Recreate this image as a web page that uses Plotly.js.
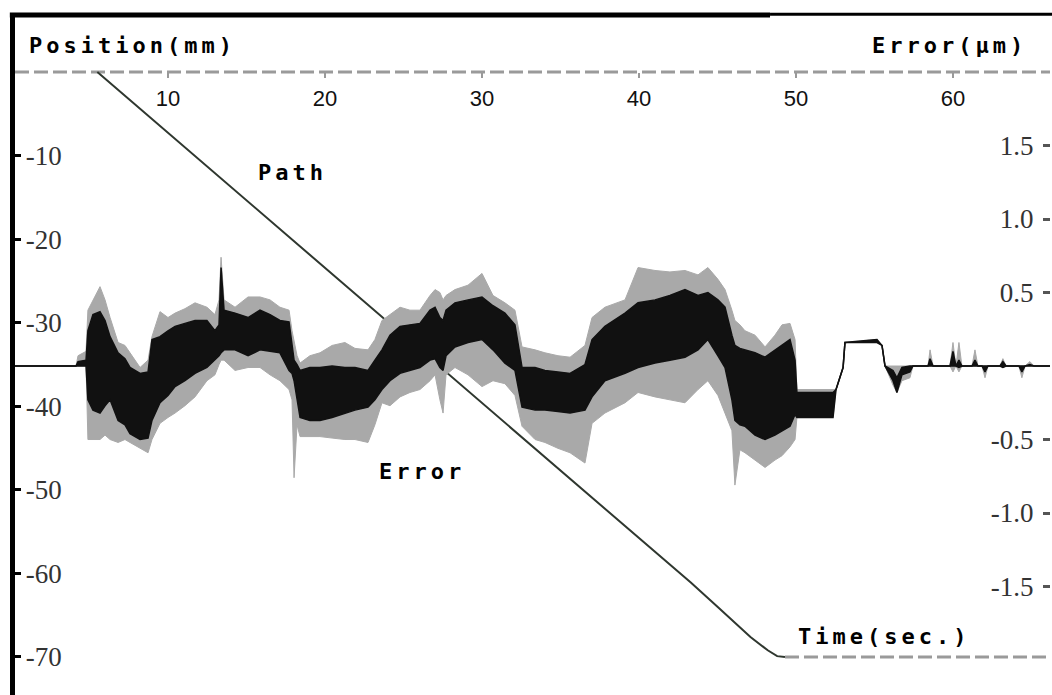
<!DOCTYPE html>
<html>
<head>
<meta charset="utf-8">
<script src="https://cdn.plot.ly/plotly-3.0.1.min.js"></script>
<style>
  html,body{margin:0;padding:0;background:#fff;}
  .annotation-text{letter-spacing:4px;}
</style>
</head>
<body>
<div id="chart" style="width:1052px;height:695px;"></div>
<script>
// ---------- data ----------
// time axis ticks (sec.)
const timeTicks = [10, 20, 30, 40, 50, 60];
// position axis ticks (mm)
const posTicks = [-10, -20, -30, -40, -50, -60, -70];
const posTickText = ['-10', '-20', '-30', '-40', '-50', '-60', '-70'];
// error axis ticks (um)
const errTicks = [1.5, 1.0, 0.5, -0.5, -1.0, -1.5];
const errTickText = ['1.5', '1.0', '0.5', '-0.5', '-1.0', '-1.5'];

// Path: position (mm) vs time (sec.)
const pathT   = [0, 5.5, 43.3, 45.0, 47.1, 48.2, 48.8, 49.3, 66.3];
const pathPos = [0, 0, -61.1, -64.0, -67.6, -69.2, -69.9, -70, -70];

// Error (um) vs time (sec.): envelope
const errT = [0.19,4.14,4.27,4.78,4.90,5.22,5.67,5.99,6.31,6.82,7.26,7.58,8.22,8.73,8.98,9.49,10.0,10.45,11.08,11.72,12.48,12.99,13.25,13.38,13.57,14.27,15.10,15.86,16.50,17.13,17.71,17.90,18.03,18.22,18.41,19.04,19.68,20.45,21.27,21.91,22.74,23.18,23.63,24.14,24.78,25.41,26.05,26.69,27.01,27.32,27.52,27.71,28.28,29.11,30.0,30.70,31.46,32.10,32.55,33.38,34.01,34.84,35.61,36.56,37.01,37.83,39.11,39.94,41.02,41.97,42.93,43.76,44.39,45.03,45.48,45.92,46.11,46.43,46.75,47.39,48.03,48.66,49.11,49.62,49.94,50.06,52.36,52.55,53.0,53.12,55.16,55.48,55.67,56.18,56.43,56.75,57.26,57.45,58.41,58.54,58.73,59.81,60.0,60.19,60.38,60.57,61.21,61.40,61.59,61.85,62.04,62.23,62.99,63.18,63.38,64.20,64.39,64.59,64.90,65.16,66.31];
const errGrayHi  = [0,0,0.07,0.10,0.38,0.45,0.54,0.45,0.33,0.16,0.14,0.09,-0.01,0.04,0.20,0.37,0.33,0.36,0.39,0.43,0.40,0.35,0.45,0.74,0.45,0.40,0.47,0.47,0.45,0.40,0.38,0.24,0.18,0.07,0.02,0.07,0.09,0.14,0.16,0.12,0.11,0.18,0.31,0.35,0.40,0.38,0.38,0.48,0.52,0.50,0.45,0.48,0.52,0.55,0.63,0.48,0.43,0.38,0.13,0.11,0.09,0.07,0.06,0.14,0.33,0.40,0.45,0.67,0.65,0.64,0.65,0.62,0.67,0.59,0.52,0.38,0.31,0.28,0.24,0.21,0.13,0.21,0.28,0.29,0.18,-0.16,-0.16,-0.16,-0.01,0.16,0.18,0.14,0,0,0,0,0,0,0,0.11,0,0,0.16,0,0.16,0,0,0.11,0,0,0,0,0,0.05,0,0,0,0,0.03,0,0];
const errBlackHi = [0,0,0.03,0.04,0.24,0.35,0.37,0.31,0.20,0.09,0.05,-0.01,-0.05,-0.04,0.18,0.20,0.24,0.27,0.29,0.31,0.31,0.24,0.28,0.67,0.38,0.36,0.33,0.38,0.35,0.31,0.30,0.14,0.04,0.01,-0.03,-0.01,-0.01,0,-0.01,-0.01,-0.03,0.04,0.11,0.21,0.27,0.28,0.29,0.38,0.40,0.33,0.31,0.38,0.43,0.45,0.47,0.41,0.36,0.28,-0.01,-0.01,-0.03,-0.04,-0.05,0.01,0.18,0.27,0.36,0.43,0.45,0.48,0.52,0.48,0.50,0.45,0.40,0.21,0.14,0.12,0.11,0.09,0.06,0.11,0.14,0.18,0.04,-0.18,-0.18,-0.16,-0.01,0.16,0.18,0.14,0,-0.03,-0.08,-0.01,0,0,0,0.05,0,0,0.10,0,0.04,0,0,0.04,0,0,0,0,0,0.03,0,0,0,0,0.01,0,0];
const errBlackLo = [0,0,0,0,-0.23,-0.30,-0.32,-0.27,-0.23,-0.37,-0.40,-0.46,-0.50,-0.49,-0.37,-0.25,-0.20,-0.14,-0.10,-0.05,-0.01,0.04,0.07,0.09,0.11,0.11,0.07,0.11,0.10,0.09,-0.03,-0.05,-0.10,-0.23,-0.35,-0.37,-0.37,-0.35,-0.32,-0.30,-0.28,-0.23,-0.16,-0.10,-0.05,-0.03,-0.01,0.04,0.05,-0.01,-0.03,0.07,0.13,0.16,0.18,0.11,0.02,-0.03,-0.28,-0.30,-0.30,-0.31,-0.32,-0.30,-0.21,-0.10,-0.05,-0.01,0.02,0.04,0.06,0.11,0.18,0.07,-0.01,-0.23,-0.37,-0.40,-0.41,-0.47,-0.50,-0.47,-0.44,-0.41,-0.33,-0.35,-0.35,-0.16,-0.01,0.16,0.16,0.14,0,-0.10,-0.18,-0.06,-0.04,0,0,0,0,0,0,0,-0.01,0,0,0,0,0,-0.04,0,0,-0.01,0,0,-0.04,0,0,0,0];
const errGrayLo  = [0,0,0,0,-0.50,-0.50,-0.50,-0.47,-0.50,-0.52,-0.50,-0.52,-0.56,-0.59,-0.50,-0.39,-0.35,-0.32,-0.27,-0.21,-0.10,-0.06,0.01,0.04,0.04,-0.03,-0.01,-0.01,-0.06,-0.10,-0.16,-0.23,-0.76,-0.40,-0.48,-0.48,-0.48,-0.49,-0.50,-0.50,-0.52,-0.40,-0.25,-0.27,-0.21,-0.18,-0.16,-0.10,-0.06,-0.23,-0.32,-0.06,-0.01,-0.06,-0.14,-0.10,-0.12,-0.20,-0.41,-0.50,-0.52,-0.56,-0.59,-0.66,-0.39,-0.32,-0.25,-0.18,-0.21,-0.23,-0.25,-0.16,-0.10,-0.20,-0.32,-0.44,-0.81,-0.57,-0.59,-0.64,-0.69,-0.64,-0.61,-0.55,-0.50,-0.35,-0.35,-0.16,-0.01,0.16,0.16,0.14,0,-0.13,-0.18,-0.10,-0.08,0,0,0,0,0,-0.04,0,-0.04,0,0,0,0,0,-0.08,0,0,-0.01,0,0,-0.08,0,0,0,0];

// ---------- axis ranges (fit to frame) ----------
const tRange   = [0.255, 66.18];
const posRange = [-74.55, 6.82];
const errRange = [-2.238, 2.388];
const xAxisPos = (0 - posRange[0]) / (posRange[1] - posRange[0]);

const GRAY = '#a9a9a9', BLACK = '#111111';
const traces = [
  {x: errT, y: errGrayLo, yaxis: 'y2', mode: 'lines', line: {color: GRAY, width: 1}, hoverinfo: 'skip'},
  {x: errT, y: errGrayHi, yaxis: 'y2', mode: 'lines', line: {color: GRAY, width: 1}, fill: 'tonexty', fillcolor: GRAY, hoverinfo: 'skip'},
  {x: errT, y: errBlackLo, yaxis: 'y2', mode: 'lines', line: {color: BLACK, width: 1.5}, hoverinfo: 'skip'},
  {x: errT, y: errBlackHi, yaxis: 'y2', mode: 'lines', line: {color: BLACK, width: 1.5}, fill: 'tonexty', fillcolor: BLACK, hoverinfo: 'skip'},
  {x: pathT.slice(1, 8), y: pathPos.slice(1, 8), mode: 'lines', line: {color: '#2f372f', width: 2}},
  {x: pathT.slice(7), y: pathPos.slice(7), mode: 'lines', line: {color: '#9a9a9a', width: 3, dash: '14px,5px'}},
  // invisible trace to activate the left label axis
  {x: [tRange[0]], y: [posRange[0]], yaxis: 'y3', mode: 'markers', marker: {opacity: 0}, hoverinfo: 'skip'}
];

const monoFont = {family: 'DejaVu Sans Mono', size: 22, color: '#000', weight: 'bold'};
const labels = [
  {text: 'Position(mm)', x: 1.0,   y: 3.23},
  {text: 'Error(μm)',    x: 54.7,  y: 3.23},
  {text: 'Path',         x: 15.6,  y: -11.97},
  {text: 'Error',        x: 23.3,  y: -47.86},
  {text: 'Time(sec.)',   x: 50.0,  y: -67.49}
];

const serifFont = {family: 'Liberation Serif', size: 27, color: '#333'};
const layout = {
  width: 1052, height: 695,
  margin: {l: 15, r: 2, t: 15, b: 0},
  paper_bgcolor: '#fff', plot_bgcolor: '#fff',
  showlegend: false,
  xaxis: {
    range: tRange, anchor: 'free', position: xAxisPos,
    tickvals: timeTicks, ticks: 'outside', ticklen: 5, tickwidth: 1.5, tickcolor: '#999',
    showline: false, showgrid: false, zeroline: false, ticklabelstandoff: 2,
    tickfont: {family: 'Liberation Sans', size: 22, color: '#111'}
  },
  // left axis: line and short tick marks
  yaxis: {
    range: posRange, tickvals: posTicks, showticklabels: false,
    ticks: 'inside', ticklen: 6, tickwidth: 3, tickcolor: '#000',
    showline: true, linewidth: 5, linecolor: '#000',
    showgrid: false, zeroline: false
  },
  // left axis labels, placed just inside the frame
  yaxis3: {
    overlaying: 'y', side: 'right', anchor: 'free', position: 0.0095,
    range: posRange, tickvals: posTicks, ticktext: posTickText, ticks: '',
    showline: false, showgrid: false, zeroline: false, tickfont: serifFont
  },
  yaxis2: {
    overlaying: 'y', side: 'right', range: errRange,
    tickvals: errTicks, ticktext: errTickText, ticks: 'inside', ticklen: 7, tickwidth: 3, tickcolor: '#555',
    ticklabelposition: 'inside', ticklabelstandoff: 12, showline: false, showgrid: false, zeroline: false,
    tickfont: serifFont
  },
  shapes: [
    {type: 'line', xref: 'paper', yref: 'y', x0: 0, x1: 1, y0: 0, y1: 0, layer: 'below',
     line: {color: '#9a9a9a', width: 3, dash: '14px,5px'}},
    {type: 'line', xref: 'paper', yref: 'paper', x0: -0.005, x1: 0.7295, y0: 1, y1: 1,
     line: {color: '#000', width: 5}},
    {type: 'line', xref: 'paper', yref: 'paper', x0: 0.7295, x1: 1.002, y0: 1.001, y1: 1.001,
     line: {color: '#000', width: 3}}
  ],
  annotations: labels.map(l => ({
    text: l.text, x: l.x, y: l.y, xref: 'x', yref: 'y', xanchor: 'left', yanchor: 'middle',
    showarrow: false, font: monoFont
  }))
};

Plotly.newPlot('chart', traces, layout, {displayModeBar: false, staticPlot: true});
</script>
</body>
</html>
